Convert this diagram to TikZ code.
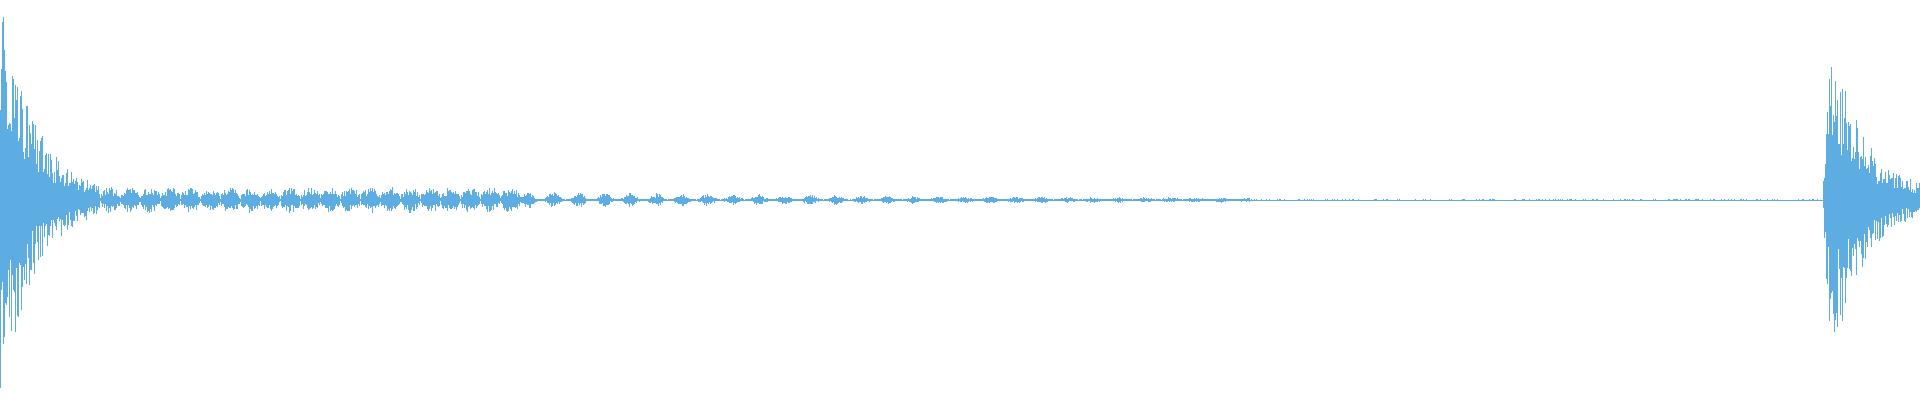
\documentclass[tikz,border=0pt]{standalone}
\definecolor{wave}{HTML}{5DADE2}
\begin{document}
\begin{tikzpicture}[x=1pt,y=1pt,wl/.style={draw=wave,line width=0.9pt}]
\useasboundingbox (0,0) rectangle (1920,400);
\pgfmathsetseed{7}
\draw[wave,line width=0.5pt] (0,200) -- (1920,200);
\foreach \x in {0,...,1919}{
  \ifnum\x<100
    \pgfmathsetmacro{\A}{185*exp(-\x/32)+14*(1-\x/100)+6}
  \else\ifnum\x<520
    \pgfmathsetmacro{\A}{11*sqrt(abs(sin(\x*9)))+2}
  \else\ifnum\x<1250
    \pgfmathsetmacro{\A}{8*exp(-(\x-520)/400)*abs(sin(\x*7))^3+1.2}
  \else\ifnum\x<1822
    \def\A{0.6}
  \else\ifnum\x<1830
    \pgfmathsetmacro{\A}{20*(\x-1822)}
  \else
    \pgfmathsetmacro{\A}{170*exp(-(\x-1830)/30)+9}
  \fi\fi\fi\fi\fi
  \pgfmathsetmacro{\r}{0.35+0.65*rnd}
  \pgfmathsetmacro{\s}{0.35+0.65*rnd}
  \draw[wl] (\x,{200-\A*\r}) -- (\x,{200+\A*\s});
}
\end{tikzpicture}
\end{document}
